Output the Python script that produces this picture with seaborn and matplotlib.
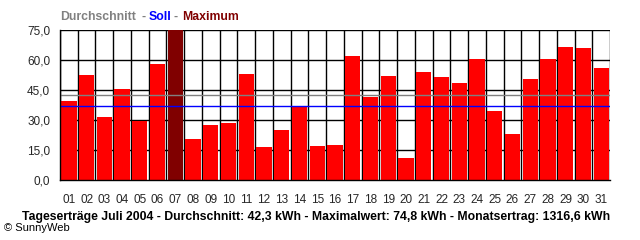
import matplotlib
matplotlib.use("Agg")
import matplotlib.pyplot as plt
import seaborn as sns
import numpy as np
import pandas as pd

days = [f"{d:02d}" for d in range(1, 32)]
values = [39.7, 52.5, 31.7, 45.3, 29.7, 58.0, 74.8, 20.5, 27.7, 28.7, 53.0, 16.5,
          25.0, 36.8, 17.2, 17.7, 62.0, 41.5, 52.0, 11.0, 54.0, 51.5, 48.5, 60.5,
          34.5, 23.0, 50.5, 60.5, 66.5, 66.0, 56.0]
average = 42.3
target = 36.8
y_ticks = [0, 15, 30, 45, 60, 75]
y_labels = ["0,0", "15,0", "30,0", "45,0", "60,0", "75,0"]
bottom_text = "Tageserträge Juli 2004 - Durchschnitt: 42,3 kWh - Maximalwert: 74,8 kWh - Monatsertrag: 1316,6 kWh"

sns.set_style("white")
plt.rcParams['font.family'] = ['Liberation Sans', 'DejaVu Sans']

df = pd.DataFrame({"day": days, "value": values})
maxv = max(values)
palette = {d: ("#800000" if v == maxv else "#ff0000") for d, v in zip(days, values)}

fig = plt.figure(figsize=(6.4, 2.4), dpi=100)
ax = fig.add_axes([60/640, 1-180/240, 550/640, 150/240])

sns.barplot(data=df, x="day", y="value", hue="day", palette=palette, legend=False,
            width=0.86, saturation=1, ax=ax)
for p in ax.patches:
    p.set_zorder(2)
    p.set_linewidth(0)

ax.set_xlim(-0.5, len(days) - 0.5)
ax.set_ylim(0, 75)

# grid
for y in y_ticks[1:]:
    ax.axhline(y, color="black", lw=1.0, zorder=1)
for i in range(len(days) + 1):
    ax.axvline(i - 0.5, color="black", lw=1.0, zorder=1)

ax.axhline(average, color="#808080", lw=1.0, zorder=3)
ax.axhline(target, color="#0000ff", lw=1.0, zorder=3)

for s in ["top", "right"]:
    ax.spines[s].set_visible(False)
for s in ["left", "bottom"]:
    ax.spines[s].set_color("black")
    ax.spines[s].set_linewidth(1.0)
    ax.spines[s].set_zorder(4)

ax.set_yticks(y_ticks)
ax.set_yticklabels(y_labels, fontsize=8.5)
ax.set_xticks(range(len(days)))
ax.set_xticklabels(days, fontsize=8.5)
ax.set_xticks(np.arange(-0.5, len(days), 1.0), minor=True)
ax.tick_params(axis="x", which="major", length=0, pad=10)
ax.tick_params(axis="x", which="minor", length=4, width=1, color="black", direction="out")
ax.tick_params(axis="y", length=5, width=1, color="black", direction="out", pad=2)
ax.set_xlabel("")
ax.set_ylabel("")

# title parts
ty = 1 - 17/240
fig.text(60/640, ty, "Durchschnitt", color="#808080", fontsize=8.8, fontweight="bold", va="center")
fig.text(141/640, ty, "-", color="#808080", fontsize=8.8, fontweight="bold", va="center")
fig.text(149/640, ty, "Soll", color="#0000ff", fontsize=8.8, fontweight="bold", va="center")
fig.text(174/640, ty, "-", color="#808080", fontsize=8.8, fontweight="bold", va="center")
fig.text(182/640, ty, "Maximum", color="#800000", fontsize=8.8, fontweight="bold", va="center")

fig.text(610/640, 1-217/240, bottom_text, color="black", fontsize=8.8, fontweight="bold",
         va="center", ha="right")
fig.text(4/640, 1-228/240, "© SunnyWeb", color="black", fontsize=8, va="center")

fig.savefig("out.png", dpi=100)
